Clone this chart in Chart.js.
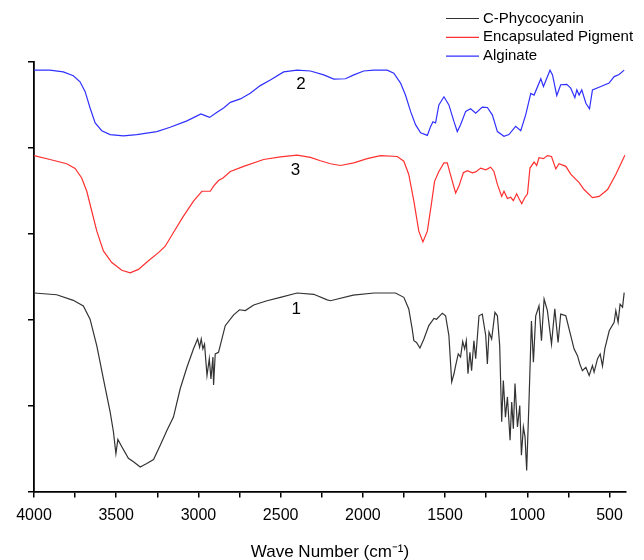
<!DOCTYPE html>
<html>
<head>
<meta charset="utf-8">
<script src="https://cdn.jsdelivr.net/npm/chart.js@4.4.1/dist/chart.umd.min.js"></script>
<style>
  html, body { margin: 0; padding: 0; background: #fff; }
  #wrap { width: 644px; height: 560px; }
</style>
</head>
<body>
<div id="wrap"><canvas id="ftirChart" width="644" height="560"></canvas></div>
<script>
// wave numbers (cm-1) and relative transmittance
const phycoWn = [4000, 3862, 3761, 3700, 3659, 3618, 3578, 3537, 3517, 3502, 3490, 3466, 3426, 3395, 3354, 3314, 3273, 3233, 3192, 3152, 3111, 3070, 3030, 3005, 2993, 2983, 2973, 2963, 2948, 2934, 2924, 2912, 2908, 2898, 2878, 2837, 2786, 2750, 2715, 2664, 2583, 2502, 2400, 2299, 2217, 2197, 2059, 1932, 1802, 1751, 1721, 1700, 1690, 1674, 1653, 1629, 1599, 1568, 1552, 1517, 1497, 1477, 1460, 1446, 1436, 1420, 1406, 1393, 1381, 1371, 1361, 1349, 1339, 1325, 1314, 1294, 1274, 1253, 1243, 1233, 1217, 1197, 1182, 1168, 1156, 1146, 1133, 1121, 1105, 1095, 1085, 1075, 1060, 1046, 1036, 1024, 1014, 1004, 990, 975, 963, 949, 929, 914, 898, 878, 853, 833, 813, 797, 766, 736, 716, 695, 681, 665, 644, 624, 604, 594, 573, 557, 543, 529, 502, 472, 462, 448, 436, 421, 411];
const phycoT = [46.2, 45.8, 44.5, 43.2, 40.1, 33.9, 26.2, 18.5, 13.9, 8.8, 12.1, 10.4, 7.7, 6.9, 5.7, 6.5, 7.4, 10.7, 14.2, 17.3, 23.9, 28.9, 33.2, 35.5, 33.6, 35.5, 33.2, 34.3, 27.0, 30.9, 26.2, 31.3, 24.8, 32.0, 32.4, 38.6, 41.1, 42.3, 42.1, 43.4, 44.4, 45.2, 46.2, 45.9, 44.6, 44.4, 45.7, 46.2, 46.2, 45.2, 42.5, 37.8, 35.1, 34.7, 33.4, 35.5, 38.6, 40.3, 40.1, 41.5, 40.9, 36.3, 25.5, 27.4, 29.3, 32.0, 31.3, 34.9, 33.2, 35.1, 27.4, 32.4, 28.1, 35.1, 30.9, 40.9, 41.3, 36.3, 29.7, 37.1, 35.5, 41.7, 40.9, 33.9, 16.2, 25.8, 17.3, 22.0, 11.9, 20.8, 14.6, 25.1, 15.0, 20.0, 8.4, 15.0, 12.7, 4.9, 20.8, 39.7, 30.1, 40.9, 43.2, 35.1, 44.8, 42.1, 34.3, 42.5, 34.7, 41.3, 40.9, 36.3, 33.2, 31.6, 29.7, 28.1, 28.9, 27.0, 29.3, 27.8, 30.9, 32.0, 29.2, 33.2, 37.4, 39.4, 42.1, 39.4, 43.6, 42.9, 46.3];

const pigmentWn = [4000, 3903, 3801, 3750, 3710, 3679, 3649, 3618, 3578, 3527, 3466, 3415, 3365, 3304, 3243, 3202, 3152, 3091, 3030, 2979, 2928, 2908, 2878, 2851, 2806, 2725, 2604, 2502, 2400, 2319, 2258, 2197, 2136, 2055, 1974, 1893, 1791, 1751, 1721, 1690, 1660, 1635, 1608, 1584, 1564, 1538, 1507, 1487, 1462, 1436, 1416, 1389, 1365, 1334, 1314, 1284, 1253, 1223, 1203, 1182, 1156, 1142, 1121, 1101, 1085, 1065, 1051, 1034, 1016, 999, 984, 959, 943, 929, 902, 878, 853, 827, 807, 766, 736, 685, 655, 604, 563, 512, 462, 407];
const pigmentT = [78.2, 77.3, 76.3, 75.2, 73.0, 69.9, 65.3, 60.6, 56.0, 53.3, 51.5, 50.9, 51.7, 53.7, 55.6, 57.1, 60.3, 64.1, 67.6, 69.9, 69.9, 71.1, 72.4, 73.0, 74.5, 75.7, 77.3, 77.9, 78.3, 77.8, 77.0, 76.3, 75.9, 76.5, 77.5, 78.2, 78.0, 76.9, 73.8, 67.6, 60.6, 58.1, 60.6, 66.8, 72.2, 74.5, 76.5, 76.5, 73.0, 69.5, 71.1, 74.2, 74.7, 74.2, 74.4, 75.3, 74.9, 75.5, 74.5, 71.5, 68.7, 69.9, 68.2, 68.5, 67.7, 69.3, 68.2, 67.0, 68.4, 69.3, 75.3, 76.7, 75.9, 77.7, 77.5, 78.2, 78.0, 75.1, 76.3, 75.7, 73.9, 71.9, 70.3, 68.4, 68.7, 70.3, 73.8, 78.3];

const alginateWn = [4000, 3903, 3822, 3761, 3720, 3689, 3659, 3628, 3588, 3537, 3456, 3375, 3253, 3172, 3070, 2985, 2959, 2932, 2887, 2847, 2806, 2745, 2685, 2624, 2563, 2482, 2400, 2319, 2238, 2177, 2106, 2055, 1995, 1934, 1852, 1812, 1771, 1741, 1710, 1680, 1649, 1608, 1588, 1574, 1558, 1538, 1507, 1477, 1446, 1426, 1406, 1375, 1345, 1314, 1274, 1243, 1213, 1182, 1142, 1112, 1071, 1040, 1010, 979, 959, 918, 902, 862, 847, 821, 797, 760, 736, 711, 699, 685, 669, 644, 622, 604, 553, 503, 472, 442, 411];
const alginateT = [98.1, 98.1, 97.7, 96.8, 95.4, 93.1, 89.3, 85.8, 84.0, 83.1, 82.8, 83.1, 83.8, 84.8, 86.3, 87.9, 87.5, 87.1, 88.3, 89.3, 90.6, 91.4, 92.7, 94.5, 95.8, 97.7, 98.1, 97.9, 97.0, 96.0, 96.1, 97.0, 97.9, 98.1, 98.1, 97.4, 95.1, 92.3, 88.5, 85.4, 83.5, 82.9, 85.0, 86.1, 85.8, 90.0, 91.9, 90.0, 86.1, 83.8, 85.4, 88.5, 89.1, 88.1, 89.5, 89.4, 87.7, 83.8, 82.7, 83.1, 85.0, 84.0, 87.7, 92.7, 92.3, 96.1, 94.3, 98.1, 97.0, 92.2, 94.7, 94.8, 93.9, 91.7, 93.5, 92.3, 93.5, 90.4, 89.1, 93.5, 94.3, 95.1, 96.6, 97.1, 98.1];

const seriesNames = ['C-Phycocyanin', 'Encapsulated Pigment', 'Alginate'];
const seriesColors = ['#333333', '#ff3030', '#3030ff'];

// x tick marks (every 250) and the ones that carry a label
const xTickValues = [500, 750, 1000, 1250, 1500, 1750, 2000, 2250, 2500, 2750, 3000, 3250, 3500, 3750, 4000];
const xTickLabels = ['4000', '3500', '3000', '2500', '2000', '1500', '1000', '500'];

// curve numbers written next to each spectrum
const curveTags = ['1', '3', '2'];
const tagWn = [2406, 2410, 2376];
const tagT = [42.3, 74.7, 94.7];

function toPoints(wn, t) {
  return wn.map((w, i) => ({ x: w, y: t[i] }));
}

const tagsAndLegend = {
  id: 'tagsAndLegend',
  afterDraw(chart) {
    const ctx = chart.ctx;
    const xs = chart.scales.x, ys = chart.scales.y;
    ctx.save();
    ctx.fillStyle = '#000';
    ctx.font = '17px "Liberation Sans", Arial, sans-serif';
    ctx.textAlign = 'center';
    ctx.textBaseline = 'middle';
    curveTags.forEach((tag, i) => {
      ctx.fillText(tag, xs.getPixelForValue(tagWn[i]), ys.getPixelForValue(tagT[i]));
    });

    // legend, top right
    ctx.font = '15px "Liberation Sans", Arial, sans-serif';
    ctx.textAlign = 'left';
    chart.data.datasets.forEach((ds, i) => {
      const y = 18.5 + i * 18.8;
      ctx.strokeStyle = ds.borderColor;
      ctx.lineWidth = 1.2;
      ctx.beginPath();
      ctx.moveTo(446, y);
      ctx.lineTo(479, y);
      ctx.stroke();
      ctx.fillStyle = '#000';
      ctx.fillText(ds.label, 483, y);
    });
    ctx.restore();
  }
};

Chart.defaults.font.family = '"Liberation Sans", Arial, sans-serif';
Chart.defaults.color = '#000';

const ctx = document.getElementById('ftirChart').getContext('2d');
const ftirChart = new Chart(ctx, {
  type: 'line',
  data: {
    datasets: [
      { label: seriesNames[0], data: toPoints(phycoWn, phycoT), borderColor: seriesColors[0] },
      { label: seriesNames[1], data: toPoints(pigmentWn, pigmentT), borderColor: seriesColors[1] },
      { label: seriesNames[2], data: toPoints(alginateWn, alginateT), borderColor: seriesColors[2] }
    ]
  },
  options: {
    responsive: false,
    animation: false,
    layout: { padding: { left: 28, right: 18, top: 62, bottom: 0 } },
    elements: {
      line: { borderWidth: 1.2, tension: 0, fill: false },
      point: { radius: 0 }
    },
    plugins: {
      legend: { display: false },
      tooltip: { enabled: false }
    },
    scales: {
      x: {
        type: 'linear',
        reverse: true,
        min: 400,
        max: 4000,
        afterBuildTicks: (scale) => {
          scale.ticks = xTickValues.map(v => ({ value: v }));
        },
        ticks: {
          autoSkip: false,
          maxRotation: 0,
          padding: 9,
          font: { size: 16 },
          callback: (v) => (xTickLabels.includes(String(v)) ? String(v) : '')
        },
        grid: { drawOnChartArea: false, drawTicks: true, tickLength: 6, color: '#000', lineWidth: 1.5 },
        border: { color: '#000', width: 1.8 },
        title: {
          display: true,
          text: 'Wave Number (cm⁻¹)',
          font: { size: 17 },
          padding: { top: 8, bottom: -3 }
        }
      },
      y: {
        min: 0,
        max: 100,
        ticks: { stepSize: 20, display: false },
        grid: { drawOnChartArea: false, drawTicks: true, tickLength: 6, color: '#000', lineWidth: 1.5 },
        border: { color: '#000', width: 1.8 }
      }
    }
  },
  plugins: [tagsAndLegend]
});
</script>
</body>
</html>
